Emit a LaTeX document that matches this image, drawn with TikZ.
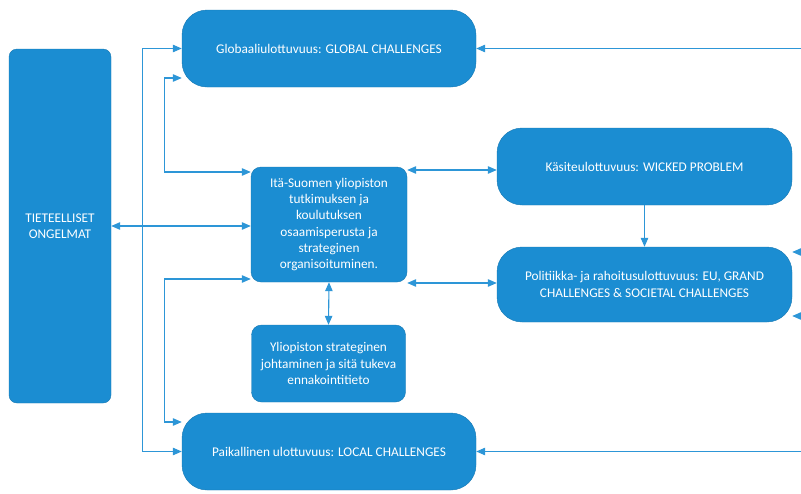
\documentclass[tikz,border=0pt]{standalone}
\usepackage{fontspec}
\setmainfont{Carlito}
\usetikzlibrary{arrows.meta}
\definecolor{boxblue}{RGB}{27,141,210}
\definecolor{lineblue}{RGB}{45,150,215}
\begin{document}
\begin{tikzpicture}[x=1pt,y=-1pt,
  box/.style={fill=boxblue,draw=boxblue!85!black,line width=0.4pt,text=white,align=center,inner sep=2pt,
    font=\fontsize{13.3}{16.3}\selectfont},
  conn/.style={draw=lineblue,line width=1.1pt},
  tip/.style={-{Triangle[length=9pt,width=7.5pt]}},
  dtip/.style={{Triangle[length=9pt,width=7.5pt]}-{Triangle[length=9pt,width=7.5pt]}}]
\useasboundingbox (0,0) rectangle (801,493);
\clip (0,0) rectangle (801,493);
\node[box,minimum width=102pt,minimum height=354pt,rounded corners=8pt] (tiet) at (60,226) {TIETEELLISET\\ONGELMAT};
\node[box,minimum width=294pt,minimum height=77pt,rounded corners=25pt] (glob) at (329,48.5) {Globaaliulottuvuus: GLOBAL CHALLENGES};
\node[box,minimum width=156pt,minimum height=115pt,rounded corners=10pt] (cent) at (329,224.5) {Itä-Suomen yliopiston\\tutkimuksen ja\\koulutuksen\\osaamisperusta ja\\strateginen\\organisoituminen.};
\node[box,minimum width=154pt,minimum height=77pt,rounded corners=10pt] (ylio) at (328.5,363.5) {Yliopiston strateginen\\johtaminen ja sitä tukeva\\ennakointitieto};
\node[box,minimum width=294pt,minimum height=77pt,rounded corners=25pt] (loc) at (329,451.5) {Paikallinen ulottuvuus: LOCAL CHALLENGES};
\node[box,minimum width=295pt,minimum height=77pt,rounded corners=25pt] (wick) at (644.5,166.5) {Käsiteulottuvuus: WICKED PROBLEM};
\node[box,minimum width=295pt,minimum height=75pt,rounded corners=25pt] (pol) at (644.5,284.5) {Politiikka- ja rahoitusulottuvuus: EU, GRAND\\CHALLENGES \& SOCIETAL CHALLENGES};

\coordinate (rg) at (812,48.5);
\coordinate (rl) at (812,451.5);
\coordinate (rp1) at (812,252);
\coordinate (rp2) at (812,316);

% outer bracket global <-> local
\draw[conn,dtip] (glob.west) -- ++(-39,0) |- (loc.west);
% inner bracket global <-> centre
\draw[conn,dtip] ([yshift=-29.5pt]glob.west) -- ++(-17,0) |- ([yshift=52.5pt]cent.west);
% inner bracket centre <-> local
\draw[conn,dtip] ([yshift=-54.5pt]cent.west) -- ++(-86,0) |- ([yshift=29.5pt]loc.west);
% tieteelliset <-> centre
\draw[conn,dtip] (tiet.east) -- (tiet.east -| cent.west);
% centre <-> wicked
\draw[conn,dtip] ([yshift=-3.5pt]wick.west -| cent.east) -- ([yshift=-3.5pt]wick.west);
% centre <-> politiikka
\draw[conn,dtip] ([yshift=1.5pt]pol.west -| cent.east) -- ([yshift=1.5pt]pol.west);
% centre <-> yliopisto
\draw[conn,dtip] (cent.south) -- (ylio.north);
% wicked -> politiikka
\draw[conn,tip] (wick.south) -- (pol.north);
% right side inputs
\draw[conn,tip] (rg) -- (glob.east);
\draw[conn,tip] (rl) -- (loc.east);
\draw[conn,tip] (rp1) -- (rp1 -| pol.east);
\draw[conn,tip] (rp2) -- (rp2 -| pol.east);
\end{tikzpicture}
\end{document}
